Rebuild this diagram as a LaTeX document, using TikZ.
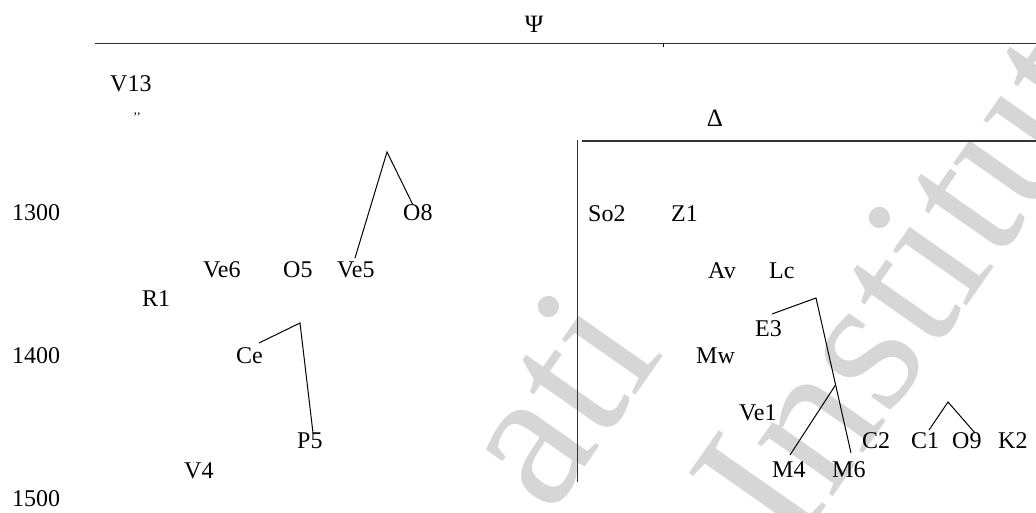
\documentclass[tikz,border=0pt]{standalone}
\usepackage{fontspec}
\setmainfont{Liberation Serif}
\begin{document}
\begin{tikzpicture}[x=1pt,y=-1pt,
  lbl/.style={anchor=base west,inner sep=0pt,font=\fontsize{24}{28}\selectfont},
  ttl/.style={anchor=base,inner sep=0pt,font=\fontsize{25}{28}\selectfont},
  frame/.style={draw=black!80,line width=1.4pt},
  branch/.style={draw=black,line width=1pt},
  wmark/.style={inner sep=0pt,text=black!16,rotate=55,font=\fontsize{200}{220}\selectfont}]
\useasboundingbox (0,0) rectangle (1036,513);
% watermark
\begin{scope}
\clip (0,0) rectangle (1036,513);
\node[wmark,anchor=base east] (wm1) at (665,353) {ati};
\node[wmark,anchor=base west] (wm2) at (792,555) {Institut};
\end{scope}
% titles and frames
\node[ttl] (psi) at (534,33) {Ψ};
\node[ttl] (delta) at (715,127) {Δ};
\coordinate (psiL) at (95,43.5);
\coordinate (psiR) at (1036,43.5);
\coordinate (tickT) at (663,43.5);
\coordinate (tickB) at (663,47.5);
\draw[frame] (psiL) -- (psiR);
\draw[branch] (tickT) -- (tickB);
\coordinate (dvT) at (577.5,140);
\coordinate (dvB) at (577.5,482);
\coordinate (dhL) at (582,141);
\coordinate (dhR) at (1036,141);
\draw[frame] (dvT) -- (dvB);
\draw[frame] (dhL) -- (dhR);
% year axis
\node[lbl] (y1300) at (12,221) {1300};
\node[lbl] (y1400) at (12,363) {1400};
\node[lbl] (y1500) at (12,506) {1500};
% left group
\node[lbl] (V13) at (110,92) {V13};
\node[inner sep=0pt,font=\fontsize{13}{14}\selectfont] (V13q) at (137,117) {’’};
\node[lbl] (O8) at (403,221) {O8};
\node[lbl] (Ve6) at (203,277) {Ve6};
\node[lbl] (O5) at (283,277) {O5};
\node[lbl] (Ve5) at (337,277) {Ve5};
\node[lbl] (R1) at (142,306) {R1};
\node[lbl] (Ce) at (236,363) {Ce};
\node[lbl] (P5) at (297,448) {P5};
\node[lbl] (V4) at (184,478) {V4};
% right group
\node[lbl] (So2) at (588,222) {So2};
\node[lbl] (Z1) at (671,222) {Z1};
\node[lbl] (Av) at (708,278) {Av};
\node[lbl] (Lc) at (769,278) {Lc};
\node[lbl] (E3) at (755,336) {E3};
\node[lbl] (Mw) at (696,363) {Mw};
\node[lbl] (Ve1) at (739,420) {Ve1};
\node[lbl] (C2) at (862,448) {C2};
\node[lbl] (C1) at (911,448) {C1};
\node[lbl] (O9) at (952,448) {O9};
\node[lbl] (K2) at (998,448) {K2};
\node[lbl] (M4) at (772,477) {M4};
\node[lbl] (M6) at (832,477) {M6};
% branch points
\coordinate (ve5t) at (355,258);
\coordinate (pk1) at (387,152);
\coordinate (o8t) at (413,205);
\coordinate (cet) at (259,343);
\coordinate (pk2) at (300,323);
\coordinate (p5t) at (313,433);
\coordinate (e3t) at (772,314);
\coordinate (pk3) at (816,298);
\coordinate (m6t) at (851,453);
\coordinate (jn) at (835.5,385);
\coordinate (m4t) at (790,455);
\coordinate (c1t) at (929,430);
\coordinate (pk4) at (948,402);
\coordinate (o9t) at (975,433);
\draw[branch] (ve5t) -- (pk1) -- (o8t);
\draw[branch] (cet) -- (pk2) -- (p5t);
\draw[branch] (e3t) -- (pk3) -- (m6t);
\draw[branch] (jn) -- (m4t);
\draw[branch] (c1t) -- (pk4) -- (o9t);
\end{tikzpicture}
\end{document}
